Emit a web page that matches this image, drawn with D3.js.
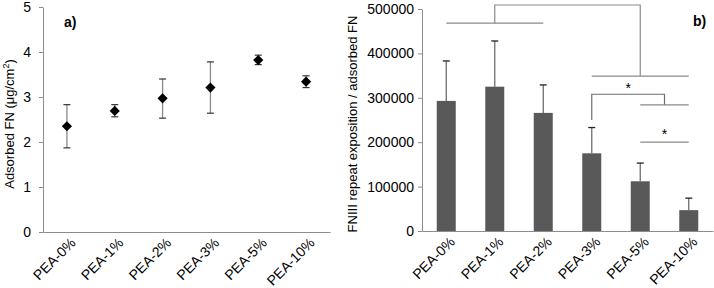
<!DOCTYPE html>
<html>
<head>
<meta charset="utf-8">
<script src="https://cdn.jsdelivr.net/npm/d3@7"></script>
<style>
  body { margin: 0; background: #fff; }
  svg { display: block; font-family: "Liberation Sans", Arial, sans-serif; }
</style>
</head>
<body>
<div id="chart"></div>
<script>
// categories shared by both panels
const categories = ["PEA-0%", "PEA-1%", "PEA-2%", "PEA-3%", "PEA-5%", "PEA-10%"];

// panel a) adsorbed FN (mean, low, high)
const adsorbed = [2.35, 2.69, 2.97, 3.21, 3.82, 3.34];
const adsorbedLow = [1.87, 2.56, 2.53, 2.64, 3.72, 3.21];
const adsorbedHigh = [2.83, 2.83, 3.40, 3.78, 3.93, 3.47];
const ticksA = [0, 1, 2, 3, 4, 5];

// panel b) FNIII repeat exposition / adsorbed FN (mean, upper error)
const exposition = [293000, 325000, 266000, 175000, 112000, 47000];
const expositionHigh = [383000, 428000, 329000, 233000, 153000, 74000];
const ticksB = [0, 100000, 200000, 300000, 400000, 500000];

// significance brackets: [from category, to category, level]
const topBracket = { groupA: ["PEA-0%", "PEA-2%", 468000], groupB: ["PEA-3%", "PEA-10%", 349000], top: 509000 };
const starBracket = { from: "PEA-3%", startLevel: 250000, level: 308000, to: ["PEA-5%", "PEA-10%", 284000] };
const starLine = ["PEA-5%", "PEA-10%", 200000];

const width = 714, height = 288;
const axisColor = "#8c8c8c";

const svg = d3.select("#chart")
  .append("svg")
  .attr("width", width)
  .attr("height", height);

function styleAxis(g) {
  g.select(".domain").attr("stroke", axisColor);
  g.selectAll(".tick line").attr("stroke", axisColor);
  g.selectAll(".tick text").attr("fill", "#000").attr("font-size", "14px")
    .attr("font-family", "Liberation Sans, Arial, sans-serif");
}

// ---------- panel a ----------
const xA = d3.scaleBand().domain(categories).range([43, 330]);
const yA = d3.scaleLinear().domain([0, 5]).range([232, 7]);
const cxA = c => xA(c) + xA.bandwidth() / 2;

svg.append("g")
  .attr("transform", "translate(43,0)")
  .call(d3.axisLeft(yA).tickValues(ticksA).tickFormat(d3.format("d")).tickSize(4).tickSizeOuter(0).tickPadding(8))
  .call(styleAxis);

const axA = svg.append("g")
  .attr("transform", "translate(0,232)")
  .call(d3.axisBottom(xA).tickSize(0).tickSizeOuter(0))
  .call(styleAxis);
axA.selectAll(".tick text")
  .attr("text-anchor", "end")
  .attr("transform", "translate(4,6) rotate(-45)")
  .attr("dy", "0.35em");

const errA = svg.append("g");
categories.forEach((c, i) => {
  const x = cxA(c);
  errA.append("line")
    .attr("x1", x).attr("x2", x)
    .attr("y1", yA(adsorbedLow[i])).attr("y2", yA(adsorbedHigh[i]))
    .attr("stroke", "#8a8a8a").attr("stroke-width", 1.3);
  [adsorbedLow[i], adsorbedHigh[i]].forEach(v => {
    errA.append("line")
      .attr("x1", x - 3.5).attr("x2", x + 3.5)
      .attr("y1", yA(v)).attr("y2", yA(v))
      .attr("stroke", "#333").attr("stroke-width", 1.2);
  });
});

svg.append("g").selectAll("path")
  .data(adsorbed)
  .join("path")
  .attr("d", d3.symbol(d3.symbolSquare, 52))
  .attr("transform", (d, i) => `translate(${cxA(categories[i])},${yA(d)}) rotate(45)`)
  .attr("fill", "#000");

svg.append("text")
  .attr("x", 64).attr("y", 27)
  .attr("font-size", "14px").attr("font-weight", "bold")
  .text("a)");

svg.append("text")
  .attr("transform", "translate(14,124) rotate(-90)")
  .attr("text-anchor", "middle")
  .attr("font-size", "13px")
  .html('Adsorbed FN (μg/cm<tspan dy="-5" font-size="9px">2</tspan><tspan dy="5">)</tspan>');

// ---------- panel b ----------
const xB = d3.scaleBand().domain(categories).range([422, 713]);
const yB = d3.scaleLinear().domain([0, 500000]).range([231, 9]);
const cxB = c => xB(c) + xB.bandwidth() / 2;
const barW = 19;

svg.append("g")
  .attr("transform", "translate(422,0)")
  .call(d3.axisLeft(yB).tickValues(ticksB).tickFormat(d3.format("d")).tickSize(4).tickSizeOuter(0).tickPadding(4))
  .call(styleAxis);

// error bars (upper only) drawn behind bars
const errB = svg.append("g");
categories.forEach((c, i) => {
  const x = cxB(c);
  errB.append("line")
    .attr("x1", x).attr("x2", x)
    .attr("y1", yB(exposition[i])).attr("y2", yB(expositionHigh[i]))
    .attr("stroke", "#6e6e6e").attr("stroke-width", 1.3);
  errB.append("line")
    .attr("x1", x - 3.5).attr("x2", x + 3.5)
    .attr("y1", yB(expositionHigh[i])).attr("y2", yB(expositionHigh[i]))
    .attr("stroke", "#222").attr("stroke-width", 1.3);
});

svg.append("g").selectAll("rect")
  .data(exposition)
  .join("rect")
  .attr("x", (d, i) => cxB(categories[i]) - barW / 2)
  .attr("width", barW)
  .attr("y", d => yB(d))
  .attr("height", d => yB(0) - yB(d))
  .attr("fill", "#595959");

const axB = svg.append("g")
  .attr("transform", "translate(0,231)")
  .call(d3.axisBottom(xB).tickSize(0).tickSizeOuter(0))
  .call(styleAxis);
axB.selectAll(".tick text")
  .attr("text-anchor", "end")
  .attr("transform", "translate(4,6) rotate(-45)")
  .attr("dy", "0.35em");

// significance brackets
const br = svg.append("g").attr("fill", "none").attr("stroke", "#8a8a8a").attr("stroke-width", 1.2);
const line = d3.line();
const gA = topBracket.groupA, gB = topBracket.groupB;
const midA = (cxB(gA[0]) + cxB(gA[1])) / 2;
const midB = (cxB(gB[0]) + cxB(gB[1])) / 2;
br.append("path").attr("d", line([[cxB(gA[0]), yB(gA[2])], [cxB(gA[1]), yB(gA[2])]]));
br.append("path").attr("d", line([[midA, yB(gA[2])], [midA, yB(topBracket.top)], [midB, yB(topBracket.top)], [midB, yB(gB[2])]]));
br.append("path").attr("d", line([[cxB(gB[0]), yB(gB[2])], [cxB(gB[1]), yB(gB[2])]]));

const sb = starBracket;
const midS = (cxB(sb.to[0]) + cxB(sb.to[1])) / 2;
br.append("path").attr("d", line([[cxB(sb.from), yB(sb.startLevel)], [cxB(sb.from), yB(sb.level)], [midS, yB(sb.level)], [midS, yB(sb.to[2])]]))
  .attr("stroke", "#6e6e6e");
br.append("path").attr("d", line([[cxB(sb.to[0]), yB(sb.to[2])], [cxB(sb.to[1]), yB(sb.to[2])]]));
br.append("path").attr("d", line([[cxB(starLine[0]), yB(starLine[2])], [cxB(starLine[1]), yB(starLine[2])]]));

svg.append("text")
  .attr("x", (cxB(sb.from) + midS) / 2).attr("y", yB(sb.level) - 1)
  .attr("text-anchor", "middle").attr("font-size", "14px")
  .text("*");
svg.append("text")
  .attr("x", (cxB(starLine[0]) + cxB(starLine[1])) / 2).attr("y", yB(starLine[2]) - 3)
  .attr("text-anchor", "middle").attr("font-size", "14px")
  .text("*");

svg.append("text")
  .attr("x", 693).attr("y", 26)
  .attr("font-size", "14px").attr("font-weight", "bold")
  .text("b)");

svg.append("text")
  .attr("transform", "translate(357,124) rotate(-90)")
  .attr("text-anchor", "middle")
  .attr("font-size", "13px")
  .text("FNIII repeat exposition / adsorbed FN");
</script>
</body>
</html>
